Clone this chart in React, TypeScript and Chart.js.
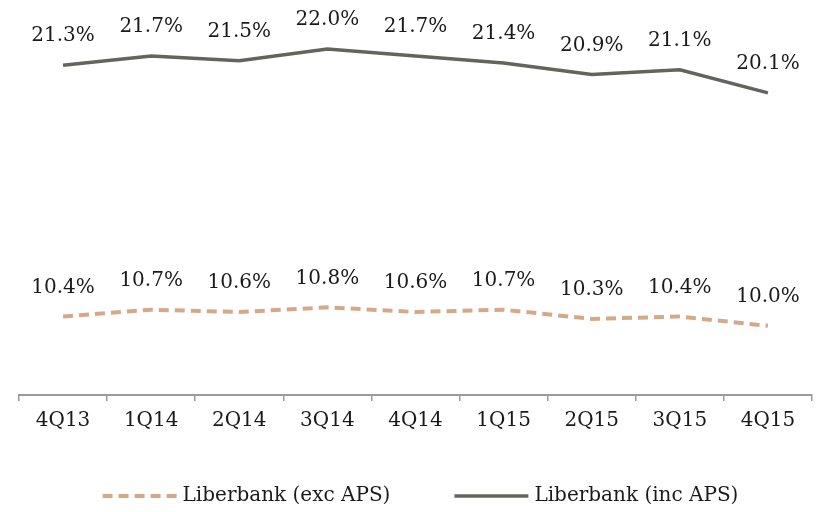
import React, { useEffect, useRef } from "react";
import { Chart, registerables } from "chart.js";

Chart.register(...registerables);

const categories = ["4Q13", "1Q14", "2Q14", "3Q14", "4Q14", "1Q15", "2Q15", "3Q15", "4Q15"];
const excAPS = [10.4, 10.7, 10.6, 10.8, 10.6, 10.7, 10.3, 10.4, 10.0];
const incAPS = [21.3, 21.7, 21.5, 22.0, 21.7, 21.4, 20.9, 21.1, 20.1];
const seriesNames = ["Liberbank (exc APS)", "Liberbank (inc APS)"];
const yMin = 7.0;
const yMax = 24.13;

const FONT = "'DejaVu Serif', serif";
const FONT_SIZE = 20;
const EXC_COLOR = "#d4aa86";
const INC_COLOR = "#62655b";

const labelPlugin = {
  id: "pointLabels",
  afterDatasetsDraw(chart: any) {
    const ctx = chart.ctx;
    ctx.save();
    ctx.font = `${FONT_SIZE}px ${FONT}`;
    ctx.fillStyle = "#1a1a1a";
    ctx.textAlign = "center";
    ctx.textBaseline = "middle";
    chart.data.datasets.forEach((ds: any, i: number) => {
      const meta = chart.getDatasetMeta(i);
      meta.data.forEach((pt: any, j: number) => {
        ctx.fillText(ds.data[j].toFixed(1) + "%", pt.x, pt.y - 29);
      });
    });
    ctx.restore();
  },
};

const legendPlugin = {
  id: "customLegend",
  afterDraw(chart: any) {
    const ctx = chart.ctx;
    const lineW = 74;
    const gap = 6;
    const itemGap = 64;
    const y = 496;
    ctx.save();
    ctx.font = `${FONT_SIZE}px ${FONT}`;
    const items = chart.data.datasets.map((ds: any) => ({
      ds,
      tw: ctx.measureText(ds.label).width,
    }));
    const total = items.reduce((s: number, it: any) => s + lineW + gap + it.tw, 0) + itemGap * (items.length - 1);
    let x = (chart.chartArea.left + chart.chartArea.right) / 2 - total / 2 + 5;
    items.forEach((it: any) => {
      ctx.beginPath();
      ctx.strokeStyle = it.ds.borderColor;
      ctx.lineWidth = it.ds.borderWidth;
      ctx.setLineDash(it.ds.borderDash || []);
      ctx.moveTo(x, y);
      ctx.lineTo(x + lineW, y);
      ctx.stroke();
      ctx.setLineDash([]);
      ctx.fillStyle = "#1a1a1a";
      ctx.textAlign = "left";
      ctx.textBaseline = "middle";
      ctx.fillText(it.ds.label, x + lineW + gap, y);
      x += lineW + gap + it.tw + itemGap;
    });
    ctx.restore();
  },
};

export default function App() {
  const ref = useRef<HTMLCanvasElement>(null);
  useEffect(() => {
    if (!ref.current) return;
    const chart = new Chart(ref.current, {
      type: "line",
      data: {
        labels: categories,
        datasets: [
          {
            label: seriesNames[0],
            data: excAPS,
            borderColor: EXC_COLOR,
            backgroundColor: EXC_COLOR,
            borderWidth: 4,
            borderDash: [10, 6],
            pointRadius: 0,
            tension: 0,
          },
          {
            label: seriesNames[1],
            data: incAPS,
            borderColor: INC_COLOR,
            backgroundColor: INC_COLOR,
            borderWidth: 3.5,
            pointRadius: 0,
            tension: 0,
          },
        ],
      },
      options: {
        responsive: false,
        animation: false,
        layout: { padding: { left: 19, right: 6, top: 0, bottom: 71 } },
        plugins: {
          legend: { display: false },
          tooltip: { enabled: false },
        },
        scales: {
          x: {
            offset: true,
            grid: {
              offset: true,
              drawOnChartArea: false,
              drawTicks: true,
              tickLength: 6,
              color: "#9a9a9a",
              lineWidth: 1.5,
            },
            border: { display: true, color: "#9a9a9a", width: 2 },
            ticks: {
              color: "#1a1a1a",
              font: { family: FONT, size: FONT_SIZE },
              padding: 8,
              maxRotation: 0,
            },
          },
          y: {
            display: false,
            min: yMin,
            max: yMax,
          },
        },
      },
      plugins: [labelPlugin, legendPlugin],
    });
    return () => chart.destroy();
  }, []);
  return (
    <div style={{ position: "absolute", left: 0, top: 0, width: 818, height: 512, background: "#fff" }}>
      <canvas ref={ref} width={818} height={512} />
    </div>
  );
}
